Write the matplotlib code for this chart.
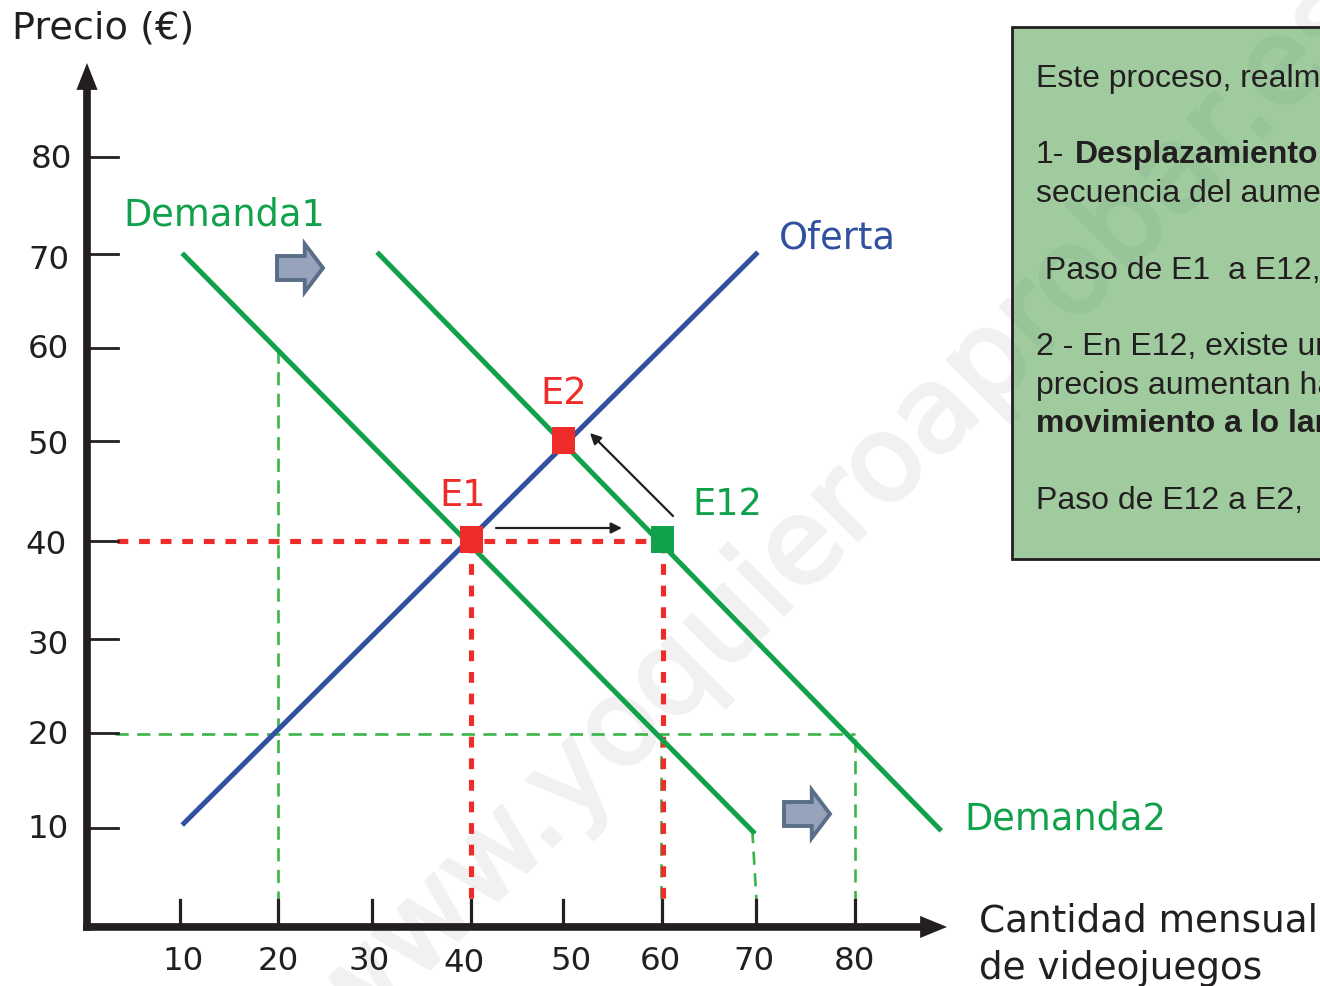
import matplotlib
matplotlib.use("Agg")
import matplotlib.pyplot as plt
import matplotlib.patheffects as pe
from matplotlib.patches import Rectangle

# values
oferta_x = [10.1, 69.7]
oferta_y = [10.7, 70]
demanda1_x = [10.1, 69.4]
demanda1_y = [69.9, 9.8]
demanda2_x = [30.4, 88.8]
demanda2_y = [70, 10.1]

equilibrio_names = ["E1", "E2", "E12"]
equilibrio_x = [40.05, 49.6, 59.95]
equilibrio_y = [40.25, 50.6, 40.25]

x_ticks = [9.7, 19.9, 29.7, 40, 49.6, 59.9, 69.7, 80]
y_ticks = [80.1, 70, 60.2, 50.5, 40.1, 29.9, 20.1, 10.2]
x_labels = ["10", "20", "30", "40", "50", "60", "70", "80"]
y_labels = ["80", "70", "60", "50", "40", "30", "20", "10"]

box_lines = [
    "Este proceso, realm",
    "secuencia del aume",
    " Paso de E1  a E12,",
    "2 - En E12, existe ur",
    "precios aumentan ha",
    "Paso de E12 a E2,",
]

BLACK = "#231f20"
GREEN = "#10a14a"
DASH_GREEN = "#3ab54a"
BLUE = "#31509f"
RED = "#ee2d2a"

W, H = 1320, 986
SCALE = 9.6  # pixels per unit, same on both axes
X0, Y0 = 87, 926  # pixel of the origin


def px(x):
    return (x - X0) / SCALE


def py(y):
    return (Y0 - y) / SCALE


fig = plt.figure(figsize=(W / 100, H / 100), dpi=100)
ax = fig.add_axes([0, 0, 1, 1])
ax.set_xlim(px(0), px(W))
ax.set_ylim(py(H), py(0))
ax.axis("off")

# watermark on white, drawn under the box
mark = dict(fontsize=85, rotation=45, ha="center", va="center", rotation_mode="anchor")
ax.text(px(837), py(515.5), "www.yoquieroaprobar.es", color="#f1f1f1", zorder=0.5,
        path_effects=[pe.withStroke(linewidth=2.5, foreground="#f1f1f1")], **mark)

# green box, runs off the right edge
box = Rectangle((px(1012), py(559)), px(1340) - px(1012), py(27) - py(559),
                facecolor="#a0cb9f", edgecolor=BLACK, linewidth=2, zorder=1)
ax.add_patch(box)

# same watermark again inside the box, a bit darker
inner = ax.text(px(837), py(515.5), "www.yoquieroaprobar.es", color="#98c49a", zorder=1.5,
                path_effects=[pe.withStroke(linewidth=2.5, foreground="#98c49a")], **mark)
inner.set_clip_on(True)
inner.set_clip_path(Rectangle((px(1014), py(557)), px(1340) - px(1014), py(29) - py(557),
                              transform=ax.transData))

# box text
box_font = dict(family="Liberation Sans", fontsize=23, color=BLACK, va="baseline", zorder=6)
ax.text(px(1036), py(87), box_lines[0], **box_font)
ax.text(px(1036), py(163), "1-", **box_font)
ax.text(px(1075), py(163), "Desplazamiento", fontweight="bold", **box_font)
ax.text(px(1036), py(202), box_lines[1], **box_font)
ax.text(px(1036), py(279), box_lines[2], **box_font)
ax.text(px(1036), py(355), box_lines[3], **box_font)
ax.text(px(1036), py(394), box_lines[4], **box_font)
ax.text(px(1036), py(432), "movimiento a lo lar", fontweight="bold", **box_font)
ax.text(px(1036), py(509), box_lines[5], **box_font)

# helper dashed lines
dash_g = dict(color=DASH_GREEN, linewidth=1.9, dashes=(5, 3.2), zorder=3)
ax.plot([2.9, 80], [20, 20], **dash_g)
ax.plot([19.9, 19.9], [60, 2], **dash_g)
ax.plot([59.8, 59.8], [20, 2.5], **dash_g)
ax.plot([69.3, 69.8], [10, 1.6], **dash_g)
ax.plot([80, 80], [19.5, 2], **dash_g)

dash_r = dict(color=RED, linewidth=3.7, dashes=(2.1, 2.1), zorder=4)
ax.plot([3.1, 60], [40.1, 40.1], **dash_r)
ax.plot([40, 40], [40, 2.5], **dash_r)
ax.plot([60, 60], [40, 2.5], **dash_r)

# curves
ax.plot(oferta_x, oferta_y, color=BLUE, linewidth=3.6, zorder=5)
ax.plot(demanda1_x, demanda1_y, color=GREEN, linewidth=3.6, zorder=5)
ax.plot(demanda2_x, demanda2_y, color=GREEN, linewidth=3.6, zorder=5)

# equilibrium squares
square_colors = [RED, RED, GREEN]
for xc, yc, col in zip(equilibrio_x, equilibrio_y, square_colors):
    ax.add_patch(Rectangle((xc - 1.2, yc - 1.4), 2.4, 2.8, facecolor=col, edgecolor="none", zorder=7))

# axes with arrow heads
ax.arrow(px(83), -0.1, px(947) - px(83), 0, width=0.8, head_width=2.3, head_length=2.8,
         length_includes_head=True, color=BLACK, linewidth=0, zorder=8)
ax.arrow(0, -0.5, 0, py(63) + 0.5, width=0.8, head_width=2.2, head_length=2.8,
         length_includes_head=True, color=BLACK, linewidth=0, zorder=8)

# ticks
for t in x_ticks:
    ax.plot([t, t], [0, 2.7], color=BLACK, linewidth=2.3, zorder=6)
for t in y_ticks:
    ax.plot([0, 3.2], [t, t], color=BLACK, linewidth=2, zorder=6)

tick_font = dict(fontsize=23.3, color=BLACK, va="center", ha="center")
x_label_px = [183, 278, 369, 464, 571, 660, 754, 854]
x_label_py = [961, 961, 961, 963, 961, 961, 961, 961]
for lab, xp, yp in zip(x_labels, x_label_px, x_label_py):
    ax.text(px(xp), py(yp), lab, **tick_font)
y_label_px = [51, 49, 48, 48, 46, 48, 48, 48]
y_label_py = [160, 261, 350, 445, 545, 645, 735, 830]
for lab, xp, yp in zip(y_labels, y_label_px, y_label_py):
    ax.text(px(xp), py(yp), lab, **tick_font)

# block arrows
block = dict(width=2.5, head_width=5.0, head_length=1.9, length_includes_head=True,
             facecolor="#97a3bb", edgecolor="#596e88", linewidth=2.8, joinstyle="miter", zorder=6)
ax.arrow(px(277), py(268), px(323) - px(277), 0, **block)
ax.arrow(px(784), py(814), px(830) - px(784), 0, **block)

# thin arrows between equilibria
thin = dict(arrowstyle="-|>", color=BLACK, linewidth=1.6, mutation_scale=16, shrinkA=0, shrinkB=0)
ax.annotate("", xy=(px(622), py(528)), xytext=(px(496), py(528)), arrowprops=thin, zorder=8)
ax.annotate("", xy=(px(590), py(433)), xytext=(px(673), py(516)), arrowprops=thin, zorder=8)

# labels
label = dict(fontsize=26.5, va="baseline", ha="left")
ax.text(px(12), py(39), "Precio (€)", color=BLACK, fontsize=27.5, va="baseline")
ax.text(px(123), py(226), "Demanda1", color=GREEN, **label)
ax.text(px(964), py(830), "Demanda2", color=GREEN, **label)
ax.text(px(779), py(249), "Oferta", color=BLUE, **label)
ax.text(px(439), py(506), equilibrio_names[0], color=RED, **label)
ax.text(px(540), py(404), equilibrio_names[1], color=RED, **label)
ax.text(px(692), py(515), equilibrio_names[2], color=GREEN, **label)
ax.text(px(979), py(931), "Cantidad mensual", color=BLACK, fontsize=26.9, va="baseline")
ax.text(px(979), py(979), "de videojuegos", color=BLACK, fontsize=26.9, va="baseline")

fig.savefig("out.png", dpi=100)
